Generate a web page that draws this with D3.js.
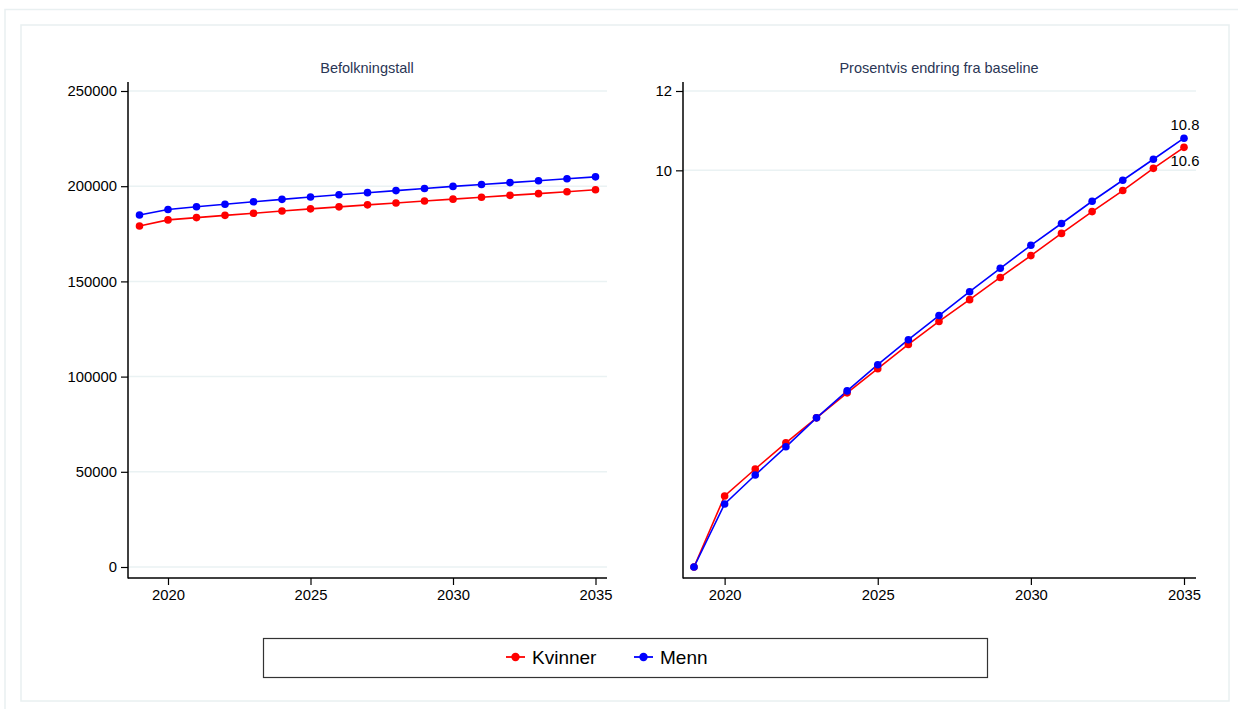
<!DOCTYPE html>
<html>
<head>
<meta charset="utf-8">
<script src="https://cdn.jsdelivr.net/npm/d3@7"></script>
<style>
  body { margin: 0; background: #fff; }
  svg { font-family: "Liberation Sans", Arial, sans-serif; }
</style>
</head>
<body>
<svg id="chart" width="1238" height="709"></svg>
<script>
// data
var years = [2019, 2020, 2021, 2022, 2023, 2024, 2025, 2026, 2027, 2028, 2029, 2030, 2031, 2032, 2033, 2034, 2035];
var kvinnerPop = [179100, 182300, 183500, 184700, 185800, 187000, 188100, 189150, 190200, 191200, 192200, 193200, 194200, 195200, 196100, 197100, 198100];
var mennPop = [184900, 187800, 189200, 190500, 191800, 193100, 194300, 195500, 196600, 197700, 198800, 199900, 200900, 201900, 202900, 203900, 204900];
var kvinnerPct = [0, 1.79, 2.47, 3.13, 3.76, 4.39, 5.0, 5.61, 6.19, 6.74, 7.30, 7.85, 8.41, 8.96, 9.49, 10.05, 10.58];
var mennPct = [0, 1.59, 2.32, 3.03, 3.76, 4.44, 5.10, 5.73, 6.34, 6.94, 7.53, 8.11, 8.66, 9.22, 9.75, 10.28, 10.81];
var popTicks = [0, 50000, 100000, 150000, 200000, 250000];
var pctTicks = [10, 12];
var xTicks = [2020, 2025, 2030, 2035];
var seriesNames = ["Kvinner", "Menn"];
var seriesColors = ["#ff0000", "#0000ff"];

var svg = d3.select("#chart");
var frameColor = "#e9f0f1";

// outer frames
svg.append("rect").attr("x", 5).attr("y", 9.5).attr("width", 1240).attr("height", 710)
  .attr("fill", "none").attr("stroke", frameColor).attr("stroke-width", 1.5);
svg.append("rect").attr("x", 21).attr("y", 25).attr("width", 1208).attr("height", 676)
  .attr("fill", "#fff").attr("stroke", frameColor).attr("stroke-width", 1.5);

function drawPanel(opt) {
  var x = d3.scaleLinear().domain([2019, 2035]).range([opt.x0, opt.x1]);
  var y = d3.scaleLinear().domain(opt.yDomain).range([567, 91]);
  var g = svg.append("g");

  // grid
  g.selectAll(".grid").data(opt.yTicks).enter().append("line")
    .attr("x1", opt.axisX).attr("x2", opt.axisEnd)
    .attr("y1", function(d) { return y(d); }).attr("y2", function(d) { return y(d); })
    .attr("stroke", "#eaf2f3").attr("stroke-width", 1.5);

  // y axis
  var yAxis = g.append("g").attr("transform", "translate(" + opt.axisX + ",0)")
    .call(d3.axisLeft(y).tickValues(opt.yTicks).tickSize(7).tickPadding(4).tickFormat(d3.format("d")));
  yAxis.select(".domain").remove();
  g.append("line").attr("x1", opt.axisX).attr("x2", opt.axisX).attr("y1", 82).attr("y2", 578.5)
    .attr("stroke", "#000").attr("stroke-width", 1.5);

  // x axis
  var xAxis = g.append("g").attr("transform", "translate(0,578)")
    .call(d3.axisBottom(x).tickValues(xTicks).tickSize(7).tickPadding(4).tickFormat(d3.format("d")));
  xAxis.select(".domain").remove();
  g.append("line").attr("x1", opt.axisX).attr("x2", opt.axisEnd).attr("y1", 578).attr("y2", 578)
    .attr("stroke", "#000").attr("stroke-width", 1.5);

  g.selectAll(".tick line").attr("stroke", "#000").attr("stroke-width", 1.2);
  g.selectAll(".tick text").attr("fill", "#000").style("font-size", "14.8px")
    .style("font-family", "Liberation Sans, Arial, sans-serif");

  // title
  g.append("text").attr("x", opt.titleX).attr("y", 73).attr("text-anchor", "middle")
    .attr("fill", "#2a3655").style("font-size", "14.5px").text(opt.title);

  var line = d3.line().x(function(d, i) { return x(years[i]); }).y(function(d) { return y(d); });
  opt.series.forEach(function(s, k) {
    g.append("path").datum(s).attr("d", line).attr("fill", "none")
      .attr("stroke", seriesColors[k]).attr("stroke-width", 1.6);
  });
  opt.series.forEach(function(s, k) {
    g.selectAll(".pt" + k).data(s).enter().append("circle")
      .attr("cx", function(d, i) { return x(years[i]); })
      .attr("cy", function(d) { return y(d); })
      .attr("r", 3.8).attr("fill", seriesColors[k]);
  });
  return { x: x, y: y, g: g };
}

drawPanel({
  x0: 139.5, x1: 595.5, axisX: 128, axisEnd: 607,
  yDomain: [0, 250000], yTicks: popTicks,
  title: "Befolkningstall", titleX: 367,
  series: [kvinnerPop, mennPop]
});

var right = drawPanel({
  x0: 694, x1: 1184, axisX: 683, axisEnd: 1196,
  yDomain: [0, 12], yTicks: pctTicks,
  title: "Prosentvis endring fra baseline", titleX: 939,
  series: [kvinnerPct, mennPct]
});

// end labels
var last = years.length - 1;
right.g.append("text").attr("x", right.x(years[last]) + 1).attr("y", right.y(mennPct[last]) - 8)
  .attr("text-anchor", "middle").style("font-size", "14.8px").text(d3.format(".1f")(mennPct[last]));
right.g.append("text").attr("x", right.x(years[last]) + 1).attr("y", right.y(kvinnerPct[last]) + 19)
  .attr("text-anchor", "middle").style("font-size", "14.8px").text(d3.format(".1f")(kvinnerPct[last]));

// legend
svg.append("rect").attr("x", 263.5).attr("y", 638.5).attr("width", 724).attr("height", 39)
  .attr("fill", "#fff").attr("stroke", "#333").attr("stroke-width", 1.2);
var legendX = [506, 634];
seriesNames.forEach(function(name, k) {
  var lg = svg.append("g").attr("transform", "translate(" + legendX[k] + ",657)");
  lg.append("line").attr("x1", 0).attr("x2", 19).attr("y1", 0).attr("y2", 0)
    .attr("stroke", seriesColors[k]).attr("stroke-width", 1.8);
  lg.append("circle").attr("cx", 9.5).attr("cy", 0).attr("r", 4.2).attr("fill", seriesColors[k]);
  lg.append("text").attr("x", 26).attr("y", 6.5).style("font-size", "19px").attr("fill", "#000").text(name);
});
</script>
</body>
</html>
